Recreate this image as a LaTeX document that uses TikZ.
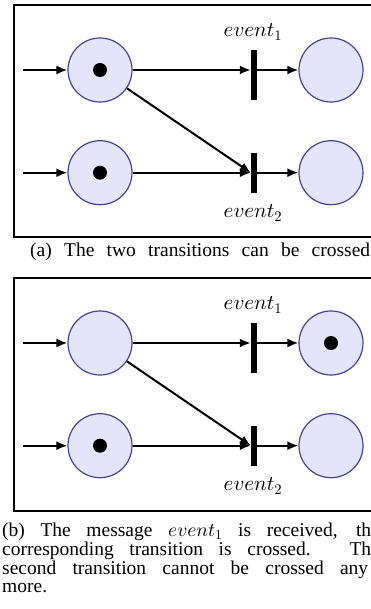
\documentclass[tikz,border=0pt]{standalone}
\usepackage[no-math]{fontspec}
\setmainfont{Liberation Serif}
\DeclareFontShape{OML}{cmm}{m}{it}{<->cmmi10}{}
\DeclareFontShape{OT1}{cmr}{m}{n}{<->cmr10}{}
\usetikzlibrary{arrows.meta}
\definecolor{placefill}{RGB}{228,228,250}
\definecolor{placedraw}{RGB}{68,68,150}
\begin{document}
\begin{tikzpicture}[x=1pt,y=-1pt,
  place/.style={circle,draw=placedraw,fill=placefill,line width=1.2pt,minimum size=64pt,inner sep=0pt},
  token/.style={circle,fill=black,minimum size=14pt,inner sep=0pt},
  trans/.style={rectangle,fill=black,minimum width=6pt,inner sep=0pt},
  arr/.style={line width=2pt,-{Latex[length=11pt,width=9pt]}},
  framebox/.style={draw=black,line width=2pt},
  lbl/.style={font=\fontsize{21}{24}\selectfont,inner sep=0pt},
  captext/.style={font=\fontsize{19.5}{18}\selectfont,anchor=base west,inner sep=0pt,text height=12pt,text depth=3pt}]
\useasboundingbox (0,0) rectangle (371,609);
% ---------- panel (a)
\draw[framebox] (13.5,5) rectangle (400,237);
\node[place] (a1) at (100,70) {};
\node[place] (a2) at (100,172.7) {};
\node[place] (a3) at (331,70) {};
\node[place] (a4) at (331,172.7) {};
\node[token] (a1t) at (a1) {};
\node[token] (a2t) at (a2) {};
\node[trans,minimum height=50pt] (aT1) at (254,75) {};
\node[trans,minimum height=40.7pt] (aT2) at (254,173) {};
\coordinate (ain1) at (23,70);
\coordinate (ain2) at (23,172.7);
\draw[arr] (ain1) -- (a1);
\draw[arr] (ain2) -- (a2);
\draw[arr] (a1) -- (a1 -| aT1.west);
\draw[arr] (a2) -- (a2 -| aT2.west);
\draw[arr] (a1) -- (a2 -| aT2.west);
\draw[arr] (aT1 |- a3) -- (a3);
\draw[arr] (aT2 |- a4) -- (a4);
\node[lbl] (aL1) at (253,32) {$event_1$};
\node[lbl] (aL2) at (253,213) {$event_2$};
\node[captext] (capa) at (30,256) {\makebox[340pt][s]{(a) The two transitions can be crossed}};
% ---------- panel (b)
\draw[framebox] (13.5,278) rectangle (400,511);
\node[place] (b1) at (100,343) {};
\node[place] (b2) at (100,445.7) {};
\node[place] (b3) at (331,343) {};
\node[place] (b4) at (331,445.7) {};
\node[token] (b2t) at (b2) {};
\node[token] (b3t) at (b3) {};
\node[trans,minimum height=50pt] (bT1) at (254,348) {};
\node[trans,minimum height=40.7pt] (bT2) at (254,446) {};
\coordinate (bin1) at (23,343);
\coordinate (bin2) at (23,445.7);
\draw[arr] (bin1) -- (b1);
\draw[arr] (bin2) -- (b2);
\draw[arr] (b1) -- (b1 -| bT1.west);
\draw[arr] (b2) -- (b2 -| bT2.west);
\draw[arr] (b1) -- (b2 -| bT2.west);
\draw[arr] (bT1 |- b3) -- (b3);
\draw[arr] (bT2 |- b4) -- (b4);
\node[lbl] (bL1) at (253,305) {$event_1$};
\node[lbl] (bL2) at (253,486) {$event_2$};
\node[captext] (capb1) at (2,536) {\makebox[369pt][s]{(b) The message $event_1$ is received, th}};
\node[captext] (capb2) at (2,555.5) {\makebox[369pt][s]{corresponding transition is crossed. Th}};
\node[captext] (capb3) at (2,574) {\makebox[366pt][s]{second transition cannot be crossed any}};
\node[captext] (capb4) at (2,592.5) {more.};
\end{tikzpicture}
\end{document}
